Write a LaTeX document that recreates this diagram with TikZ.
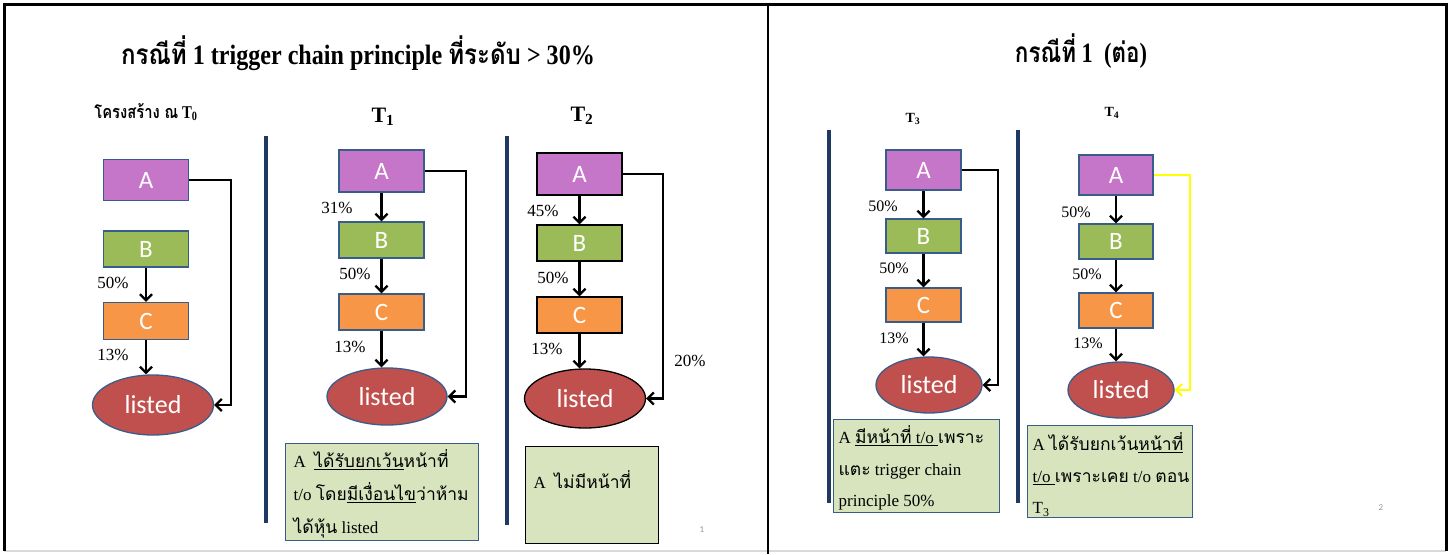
\documentclass[tikz,border=0pt]{standalone}
\usepackage{fontspec}
\usepackage{graphicx}
\setmainfont{Liberation Serif}
\newfontfamily\thai[Script=Thai]{Loma}
\newfontfamily\cali{Carlito}
\usetikzlibrary{arrows.meta,shapes.geometric}
\definecolor{cA}{RGB}{198,118,200}
\definecolor{cB}{RGB}{155,187,89}
\definecolor{cC}{RGB}{247,150,70}
\definecolor{cL}{RGB}{192,80,77}
\definecolor{bord}{RGB}{56,93,138}
\definecolor{navy}{RGB}{31,56,100}
\definecolor{note}{RGB}{215,228,189}
\definecolor{pgray}{RGB}{150,150,150}
\definecolor{yel}{RGB}{255,255,0}
\newcommand\thx[1]{{\thai\fontsize{17.5}{17.5}\selectfont #1}}
\tikzset{
  ent/.style={draw=bord, line width=1.3pt, fill=#1, inner sep=0pt, text=white,
    font=\cali\fontsize{25}{25}\selectfont},
  lst/.style={ellipse, draw=bord, line width=1.3pt, fill=cL, inner sep=0pt, text=white,
    font=\cali\fontsize{26}{26}\selectfont},
  conn/.style={line width=2.3pt, -{Straight Barb[length=6pt,width=12pt]}},
  pct/.style={font=\fontsize{17}{17}\selectfont, inner sep=0pt},
  pcts/.style={font=\fontsize{16}{16}\selectfont, inner sep=0pt},
  divider/.style={navy, line width=3.5pt},
  notebox/.style={draw=bord, line width=1.3pt, fill=note, inner sep=0pt, anchor=north west,
    font=\fontsize{17}{17}\selectfont},
  pageno/.style={text=pgray, font=\cali\fontsize{9}{9}\selectfont, inner sep=0pt}
}
\begin{document}
\begin{tikzpicture}[x=1pt,y=-1pt]
\useasboundingbox (0,0) rectangle (1450,554);
\fill[white] (0,0) rectangle (1450,554);
% frames
\draw[line width=1.5pt, black!15] (4,551) -- (1446,551);
\draw[line width=3pt, black] (4,551) -- (4,4) -- (1446,4) -- (1446,551);
\draw[line width=2.5pt, black] (768,4) -- (768,554);

% titles
\node[font=\bfseries\fontsize{28}{30}\selectfont] (title1) at (358,53)
  {\scalebox{0.86}[1]{{\thai กรณีที่} 1 trigger chain principle {\thai ที่ระดับ} > 30\%}};
\node[font=\bfseries\fontsize{28}{30}\selectfont] (title2) at (1081,51)
  {\scalebox{0.8}[1]{{\thai กรณีที่} 1\ \ ({\thai ต่อ})}};

% sub headers
\node[font=\bfseries\fontsize{18}{18}\selectfont] (h0) at (146,112)
  {\scalebox{0.82}[1]{{\thai โครงสร้าง ณ} T\textsubscript{0}}};
\node[font=\bfseries\fontsize{22}{22}\selectfont] (h1) at (383,117) {T\textsubscript{1}};
\node[font=\bfseries\fontsize{22}{22}\selectfont] (h2) at (582,116) {T\textsubscript{2}};
\node[font=\bfseries\fontsize{14}{14}\selectfont] (h3) at (913,119) {T\textsubscript{3}};
\node[font=\bfseries\fontsize{14}{14}\selectfont] (h4) at (1112,113) {T\textsubscript{4}};

% dividers
\draw[divider] (266,136) -- (266,523);
\draw[divider] (507,136) -- (507,525);
\draw[divider] (829,130) -- (829,503);
\draw[divider] (1018,130) -- (1018,503);

% ---------- T0 ----------
\node[ent=cA, minimum width=85pt, minimum height=41pt] (A0) at (146,180) {A};
\node[ent=cB, minimum width=85pt, minimum height=36pt] (B0) at (146,249) {B};
\node[ent=cC, minimum width=85pt, minimum height=37pt] (C0) at (146,321) {C};
\node[lst, minimum width=121pt, minimum height=60pt] (L0) at (153,405) {listed};
\coordinate (r0) at (231,0);
\draw[conn] (B0.south) -- (C0.north);
\draw[conn] (C0.south) -- (L0.north -| C0.south);
\draw[conn] (A0.east) -- (A0.east -| r0) -- (L0.east -| r0) -- (L0.east);
\node[pct] (p0a) at (113,283) {50\%};
\node[pct] (p0b) at (113,355) {13\%};

% ---------- T1 ----------
\node[ent=cA, minimum width=85pt, minimum height=42pt] (A1) at (381.5,171) {A};
\node[ent=cB, minimum width=85pt, minimum height=36pt] (B1) at (381.5,240) {B};
\node[ent=cC, minimum width=85pt, minimum height=36pt] (C1) at (381.5,312) {C};
\node[lst, minimum width=120pt, minimum height=57pt] (L1) at (387,396.5) {listed};
\coordinate (r1) at (466,0);
\draw[conn] (A1.south) -- (B1.north);
\draw[conn] (B1.south) -- (C1.north);
\draw[conn] (C1.south) -- (L1.north -| C1.south);
\draw[conn] (A1.east) -- (A1.east -| r1) -- (L1.east -| r1) -- (L1.east);
\node[pct] (p1a) at (337,208) {31\%};
\node[pct] (p1b) at (355,274) {50\%};
\node[pct] (p1c) at (350,347) {13\%};

% ---------- T2 ----------
\node[ent=cA, draw=black, minimum width=85pt, minimum height=42pt] (A2) at (579.5,174) {A};
\node[ent=cB, draw=black, minimum width=85pt, minimum height=36pt] (B2) at (579.5,243) {B};
\node[ent=cC, draw=black, minimum width=85pt, minimum height=36pt] (C2) at (579.5,315) {C};
\node[lst, draw=black, minimum width=121pt, minimum height=59pt] (L2) at (585,398.5) {listed};
\coordinate (r2) at (663,0);
\draw[conn] (A2.south) -- (B2.north);
\draw[conn] (B2.south) -- (C2.north);
\draw[conn] (C2.south) -- (L2.north -| C2.south);
\draw[conn] (A2.east) -- (A2.east -| r2) -- (L2.east -| r2) -- (L2.east);
\node[pct] (p2a) at (543,211) {45\%};
\node[pct] (p2b) at (553,278) {50\%};
\node[pct] (p2c) at (547,349) {13\%};
\node[pct] (p2d) at (690,361) {20\%};

% ---------- T3 ----------
\node[ent=cA, minimum width=75pt, minimum height=40pt] (A3) at (923.5,170) {A};
\node[ent=cB, minimum width=75pt, minimum height=34pt] (B3) at (923.5,236) {B};
\node[ent=cC, minimum width=75pt, minimum height=34pt] (C3) at (923.5,305) {C};
\node[lst, minimum width=106pt, minimum height=56pt] (L3) at (929,385) {listed};
\coordinate (r3) at (998,0);
\draw[conn] (A3.south) -- (B3.north);
\draw[conn] (B3.south) -- (C3.north);
\draw[conn] (C3.south) -- (L3.north -| C3.south);
\draw[conn] (A3.east) -- (A3.east -| r3) -- (L3.east -| r3) -- (L3.east);
\node[pcts] (p3a) at (883,206) {50\%};
\node[pcts] (p3b) at (894,268) {50\%};
\node[pcts] (p3c) at (894,338) {13\%};

% ---------- T4 ----------
\node[ent=cA, minimum width=74pt, minimum height=40pt] (A4) at (1116,175) {A};
\node[ent=cB, minimum width=74pt, minimum height=35pt] (B4) at (1116,241.5) {B};
\node[ent=cC, minimum width=74pt, minimum height=35pt] (C4) at (1116,310.5) {C};
\node[lst, minimum width=106pt, minimum height=56pt] (L4) at (1121,390) {listed};
\coordinate (r4) at (1190,0);
\draw[conn] (A4.south) -- (B4.north);
\draw[conn] (B4.south) -- (C4.north);
\draw[conn] (C4.south) -- (L4.north -| C4.south);
\draw[conn, yel, line width=2pt] (A4.east) -- (A4.east -| r4) -- (L4.east -| r4) -- (L4.east);
\node[pcts] (p4a) at (1076,212) {50\%};
\node[pcts] (p4b) at (1087,274) {50\%};
\node[pcts] (p4c) at (1088,343) {13\%};

% ---------- notes ----------
\node[notebox] (n1) at (285,443) {\parbox[c][97pt][t]{193pt}{\setlength{\baselineskip}{33pt}\vspace*{6pt}\hspace*{8pt}%
A\ \ \underline{\thx{ได้รับยกเว้น}}\thx{หน้าที่}\\
\hspace*{8pt}t/o \thx{โดย}\underline{\thx{มีเงื่อนไข}}\thx{ว่าห้าม}\\
\hspace*{8pt}\thx{ได้หุ้น} listed}};
\node[notebox, draw=black] (n2) at (525,446) {\parbox[c][97pt][t]{133pt}{\vspace*{24pt}\hspace*{8pt}A\ \ \thx{ไม่มีหน้าที่}}};
\node[notebox] (n3) at (833,419) {\parbox[c][93pt][t]{166pt}{\setlength{\baselineskip}{31.5pt}\vspace*{6pt}\hspace*{5pt}%
A \underline{\thx{มีหน้าที่} t/o }\thx{เพราะ}\\
\hspace*{5pt}\thx{แตะ} trigger chain\\
\hspace*{5pt}principle 50\%}};
\node[notebox] (n4) at (1027,425) {\parbox[c][92pt][t]{165pt}{\setlength{\baselineskip}{31.5pt}\vspace*{7pt}\hspace*{5pt}%
A \thx{ได้รับยกเว้น}\underline{\thx{หน้าที่}}\\
\hspace*{5pt}\underline{t/o }\thx{เพราะเคย} t/o \thx{ตอน}\\
\hspace*{5pt}T\textsubscript{3}}};

% page numbers
\node[pageno] (pg1) at (702,530) {1};
\node[pageno] (pg2) at (1381,508) {2};
\end{tikzpicture}
\end{document}
